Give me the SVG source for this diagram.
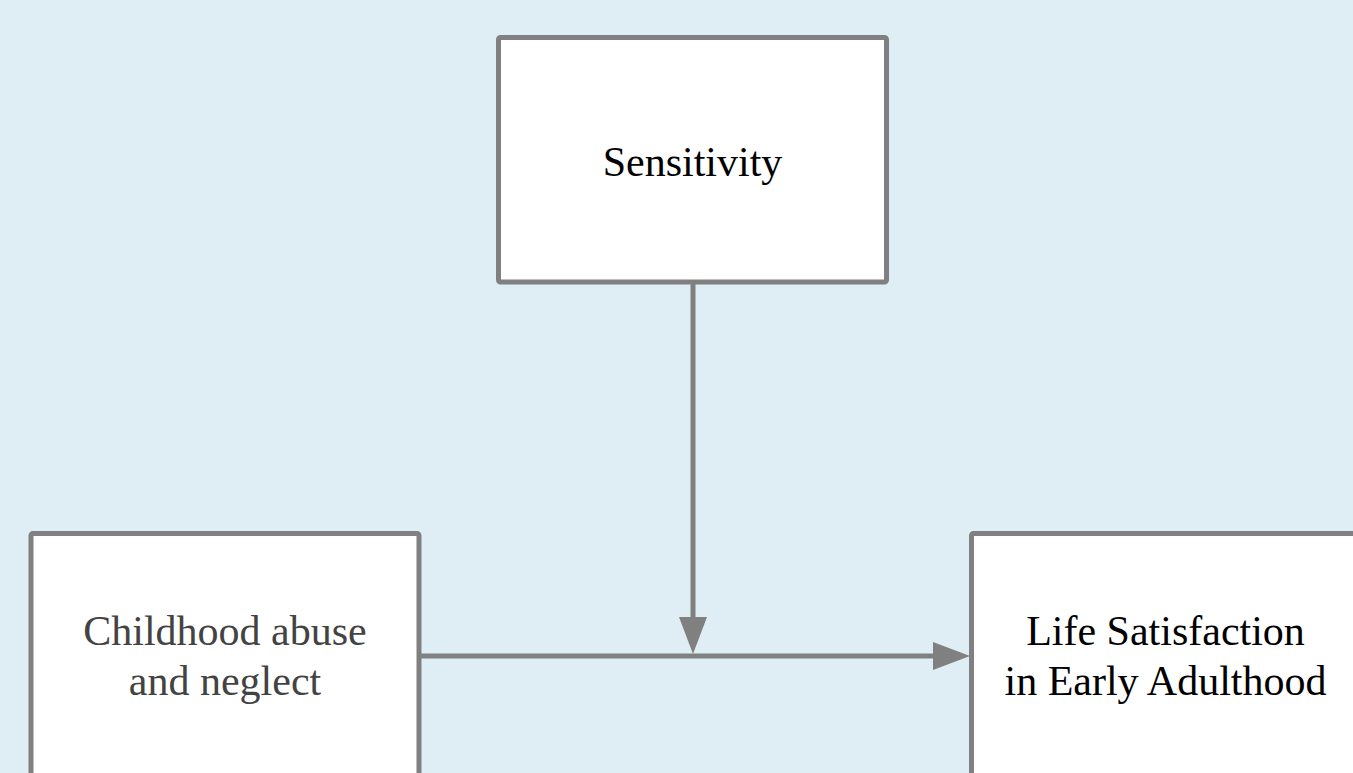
<svg xmlns="http://www.w3.org/2000/svg" width="1353" height="773" viewBox="0 0 1353 773">
  <style>
    .box { fill: #ffffff; stroke: #808080; stroke-width: 5; }
    .lbl { font-family: "Liberation Serif", "Times New Roman", serif; font-size: 42px; text-anchor: middle; fill: #000000; }
    .lbl.grey { fill: #434343; }
    .edge { stroke: #808080; stroke-width: 5; fill: none; }
  </style>
  <defs>
    <marker id="arrow" markerUnits="userSpaceOnUse" markerWidth="40" markerHeight="30" refX="6" refY="14" orient="auto">
      <path d="M0,0 L37,14 L0,28 Z" fill="#808080"/>
    </marker>
  </defs>
  <rect x="0" y="0" width="1353" height="773" fill="#dfeef5"/>
  <g id="connectors">
    <line class="edge" x1="693" y1="284" x2="693" y2="623" marker-end="url(#arrow)"/>
    <line class="edge" x1="419" y1="656" x2="939" y2="656" marker-end="url(#arrow)"/>
  </g>
  <g id="node-sensitivity">
    <rect class="box" x="498.5" y="37.5" width="388" height="244.5" rx="2"/>
    <text class="lbl" x="692.5" y="176">Sensitivity</text>
  </g>
  <g id="node-childhood">
    <rect class="box" x="31" y="533.5" width="388" height="244.5" rx="2"/>
    <text class="lbl grey" x="225" y="645">Childhood abuse</text>
    <text class="lbl grey" x="225" y="695">and neglect</text>
  </g>
  <g id="node-life">
    <rect class="box" x="971.5" y="533.5" width="388" height="244.5" rx="2"/>
    <text class="lbl" x="1165.5" y="645">Life Satisfaction</text>
    <text class="lbl" x="1165.5" y="695">in Early Adulthood</text>
  </g>
</svg>
